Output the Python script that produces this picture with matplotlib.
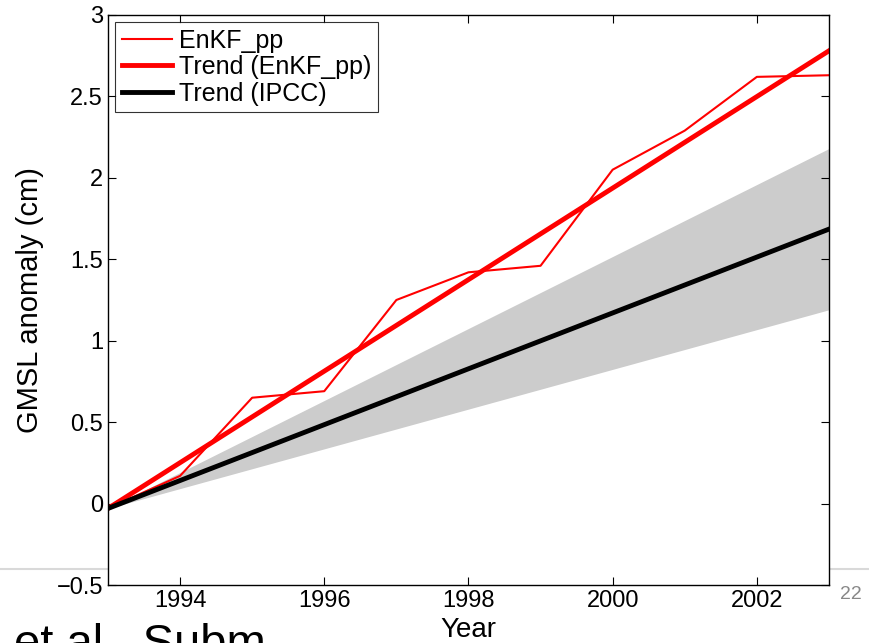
import numpy as np
import matplotlib.pyplot as plt
from matplotlib.lines import Line2D

plt.rcParams['font.family'] = ['Liberation Sans', 'DejaVu Sans']

# EnKF_pp annual GMSL anomaly (cm)
years = [1993, 1994, 1995, 1996, 1997, 1998, 1999, 2000, 2001, 2002, 2003]
enkf = [-0.03, 0.17, 0.65, 0.69, 1.25, 1.42, 1.46, 2.05, 2.29, 2.62, 2.63]

# trend lines (end points)
trend_years = [1993, 2003]
trend_enkf = [-0.03, 2.78]
trend_ipcc = [-0.03, 1.685]
ipcc_upper = [-0.03, 2.18]
ipcc_lower = [-0.03, 1.19]

yticks = [-0.5, 0, 0.5, 1, 1.5, 2, 2.5, 3]
xticks = [1994, 1996, 1998, 2000, 2002]

fig = plt.figure(figsize=(8.7, 6.43), dpi=100)

# slide decorations behind the axes
fig.add_artist(Line2D([0, 1], [0.115, 0.115], color='#d9d9d9', lw=1.5, zorder=-5))
fig.text(0.978, 0.075, '22', color='#888888', fontsize=14, ha='center', va='center')
fig.text(0.016, -0.022, 'et al., Subm', fontsize=34, ha='left', va='baseline')

ax = fig.add_axes([0.1241, 0.0902, 0.8287, 0.8865])
ax.fill_between(trend_years, ipcc_lower, ipcc_upper, color='#cccccc', lw=0)
ax.plot(years, enkf, color='red', lw=1.5, label='EnKF_pp')
ax.plot(trend_years, trend_enkf, color='red', lw=3.5, label='Trend (EnKF_pp)')
ax.plot(trend_years, trend_ipcc, color='black', lw=3.5, label='Trend (IPCC)')

ax.set_xlim(1993, 2003)
ax.set_ylim(-0.5, 3)
ax.set_xticks(xticks)
ax.set_yticks(yticks)
ax.set_yticklabels(['\u22120.5', '0', '0.5', '1', '1.5', '2', '2.5', '3'])
ax.tick_params(direction='in', top=True, right=True, labelsize=17, length=6, width=0.8)
for s in ax.spines.values():
    s.set_linewidth(1.0)

ax.set_ylabel('GMSL anomaly (cm)', fontsize=21, labelpad=9)
ax.set_xlabel('Year', fontsize=20, labelpad=4)

leg = ax.legend(loc='upper left', fontsize=18, frameon=True, fancybox=False,
                edgecolor='black', borderaxespad=0.3, handlelength=2.0,
                handletextpad=0.3, labelspacing=0.1, borderpad=0.25)
leg.get_frame().set_linewidth(0.8)

fig.savefig('out.png', dpi=100)
